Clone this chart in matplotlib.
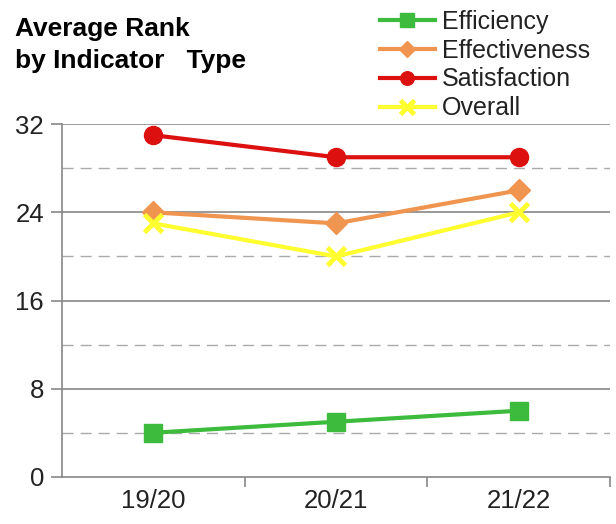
import matplotlib.pyplot as plt
from matplotlib.ticker import MultipleLocator

years = ['19/20', '20/21', '21/22']
efficiency = [4, 5, 6]
effectiveness = [24, 23, 26]
satisfaction = [31, 29, 29]
overall = [23, 20, 24]

plt.rcParams['font.family'] = ['Liberation Sans', 'DejaVu Sans']

fig = plt.figure(figsize=(6.16, 5.24), dpi=100)
ax = fig.add_axes([0.1006, 0.09, 0.89, 0.673])

x = range(len(years))
ax.plot(x, efficiency, color='#3cbb3c', lw=3, marker='s', ms=13, label='Efficiency', zorder=3)
ax.plot(x, effectiveness, color='#ef9550', lw=3, marker='D', ms=11, label='Effectiveness', zorder=3)
ax.plot(x, satisfaction, color='#dd1010', lw=3, marker='o', ms=13, label='Satisfaction', zorder=3)
ax.plot(x, overall, color='#ffff30', lw=3, marker='x', ms=13, mew=3.5, label='Overall', zorder=3)

ax.set_ylim(0, 32)
ax.set_xlim(-0.5, 2.5)
ax.yaxis.set_major_locator(MultipleLocator(8))
for v in [8, 16, 24, 32]:
    ax.axhline(v, color='#888888', lw=1.2, zorder=1)
for v in [4, 12, 20, 28]:
    ax.axhline(v, color='#aaaaaa', lw=1, ls=(0, (8, 5)), zorder=1)

ax.set_xticks(list(x))
ax.set_xticklabels(years, fontsize=18.5, color='#222222')
ax.tick_params(axis='x', length=0, pad=9)
ax.set_xticks([0.5, 1.5, 2.5], minor=True)
ax.tick_params(axis='x', which='minor', length=7, color='#888888', width=1.2)
ax.tick_params(axis='y', labelsize=18.5, labelcolor='#222222', length=8, color='#888888',
               width=1.2, direction='out', pad=5)

for s in ['top', 'right']:
    ax.spines[s].set_visible(False)
ax.spines['left'].set_color('#888888')
ax.spines['bottom'].set_color('#888888')
ax.spines['left'].set_linewidth(1.2)
ax.spines['bottom'].set_linewidth(1.2)

fig.text(0.024, 0.968, 'Average Rank\nby Indicator   Type', fontsize=19, fontweight='bold',
         va='top', ha='left', linespacing=1.45)

leg = fig.legend(loc='upper left', bbox_to_anchor=(0.60, 1.0), frameon=False, fontsize=18,
                 handlelength=2.2, handletextpad=0.3, labelspacing=0.19, borderaxespad=0,
                 markerscale=0.75)
for t in leg.get_texts():
    t.set_color('#222222')

fig.savefig('out.png', dpi=100)
